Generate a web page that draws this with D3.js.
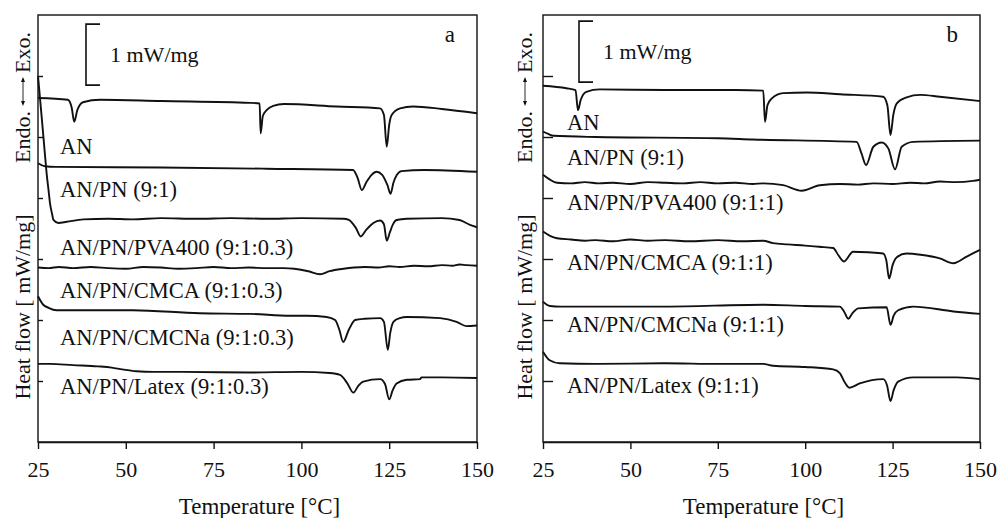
<!DOCTYPE html>
<html>
<head>
<meta charset="utf-8">
<script src="https://cdn.jsdelivr.net/npm/d3@7"></script>
<style>
  body { margin: 0; background: #fff; }
  svg { display: block; }
  text { font-family: "Liberation Serif", "Times New Roman", serif; fill: #111; }
</style>
</head>
<body>
<svg id="chart" width="998" height="518"></svg>
<script>
// ---- Data: DSC traces, [temperature °C, heat flow offset mW/mg] ----
const xTicks = [25, 50, 75, 100, 125, 150];
const yTicks = [1, 2, 3, 4, 5, 6];

// Panel a (additive 9:1:0.3)
const a_AN = [[25,5.64],[33.5,5.61],[34.6,5.48],[35.3,5.25],[36.2,5.44],[37.8,5.57],[42.7,5.61],[60,5.59],[85.4,5.56],[88.1,5.55],[88.4,5.06],[89.0,5.34],[90.1,5.44],[92,5.51],[95,5.54],[110,5.50],[122.4,5.47],[123.5,5.36],[124.3,4.84],[125.0,5.20],[125.7,5.36],[128.1,5.47],[131.8,5.50],[140,5.46],[150,5.39]];
const a_ANPN = [[25,4.57],[27,4.52],[30,4.51],[60,4.50],[90,4.48],[114.7,4.46],[116,4.33],[117.2,4.13],[118.5,4.26],[120,4.38],[121.4,4.43],[123,4.38],[124.5,4.21],[125.4,4.07],[126.2,4.25],[127.2,4.38],[128.5,4.44],[135,4.46],[150,4.43]];
const a_PVA = [[25,6.00],[26,5.36],[27,4.70],[27.5,4.38],[28,4.13],[28.4,3.92],[29,3.74],[29.4,3.64],[30.8,3.59],[33.2,3.61],[37.9,3.65],[45,3.66],[52,3.65],[60,3.67],[70,3.66],[80,3.67],[90,3.66],[100,3.67],[112,3.66],[113.5,3.64],[115.5,3.51],[116.9,3.37],[118.5,3.48],[120.5,3.59],[122.4,3.63],[123.5,3.57],[124.3,3.30],[125.2,3.44],[126,3.56],[127.1,3.64],[130,3.66],[140,3.67],[145,3.64],[148,3.56],[150,3.52]];
const a_CMCA = [[25,2.86],[28,2.85],[31,2.87],[35,2.85],[40,2.87],[45,2.85],[50,2.84],[55,2.87],[60,2.86],[65,2.84],[70,2.85],[75,2.87],[80,2.85],[85,2.86],[90,2.85],[95,2.85],[98,2.84],[102,2.80],[105.3,2.75],[108,2.80],[112,2.84],[115,2.86],[118,2.87],[122,2.86],[125,2.88],[128,2.87],[132,2.89],[136,2.88],[140,2.90],[143,2.89],[145,2.91],[147,2.90],[150,2.89]];
const a_CMCNa = [[25,2.39],[26.5,2.25],[28,2.20],[30.3,2.16],[37.8,2.16],[52,2.16],[71,2.11],[85.4,2.10],[96.8,2.07],[101.5,2.07],[107.2,2.05],[109.6,2.00],[110.8,1.84],[111.9,1.64],[113.5,1.84],[115.3,2.00],[118,2.02],[122.4,2.03],[123.5,1.97],[124.6,1.51],[125.3,1.79],[126.2,1.97],[128,2.03],[130,2.05],[139.5,2.03],[144.2,1.97],[147,1.90],[150,1.91]];
const a_Latex = [[25,1.28],[28.4,1.28],[35,1.26],[42,1.24],[46,1.22],[49,1.19],[53,1.16],[58,1.15],[66.3,1.15],[85.4,1.14],[100,1.15],[108,1.13],[111,1.10],[113,0.97],[114.8,0.81],[116.2,0.92],[117.6,0.99],[122.4,1.03],[123.8,0.95],[125,0.70],[126,0.85],[127.1,0.96],[130,1.02],[133.8,1.03],[134.2,1.06],[140,1.06],[150,1.05]];
const a_names = ["AN", "AN/PN (9:1)", "AN/PN/PVA400 (9:1:0.3)", "AN/PN/CMCA (9:1:0.3)", "AN/PN/CMCNa (9:1:0.3)", "AN/PN/Latex (9:1:0.3)"];

// Panel b (additive 9:1:1)
const b_AN = [[25,5.84],[31.7,5.80],[34.3,5.77],[35.0,5.44],[35.8,5.61],[37.4,5.74],[41.2,5.78],[60,5.77],[80,5.77],[88.0,5.76],[88.5,5.25],[89.2,5.52],[90.4,5.63],[93.7,5.72],[100.4,5.73],[110,5.70],[122.3,5.66],[123.5,5.52],[124.4,5.03],[125.2,5.36],[126.2,5.55],[129,5.65],[132.9,5.69],[138.5,5.66],[150,5.59]];
const b_ANPN = [[25,5.09],[26.5,5.05],[28,5.02],[40,5.00],[75,4.98],[85,4.96],[114.7,4.92],[116.1,4.73],[117.4,4.54],[119.5,4.84],[121.9,4.91],[123.8,4.81],[125.7,4.47],[127.6,4.84],[130.9,4.92],[150,4.94]];
const b_PVA = [[25,4.38],[27,4.30],[29,4.25],[33,4.24],[37,4.26],[41,4.24],[45,4.25],[50,4.23],[55,4.26],[60,4.25],[65,4.24],[70,4.26],[75,4.24],[80,4.25],[85,4.23],[88,4.24],[93.7,4.21],[99,4.12],[104.2,4.21],[110,4.23],[115,4.22],[119.5,4.24],[125,4.23],[130,4.25],[134,4.24],[138.5,4.27],[143,4.26],[148,4.28],[150,4.30]];
const b_CMCA = [[25,3.45],[27,3.38],[29,3.34],[33,3.32],[37,3.30],[40,3.31],[45,3.29],[50,3.32],[55,3.30],[60,3.31],[67,3.29],[75,3.31],[82,3.29],[88,3.30],[90.8,3.26],[95,3.24],[100,3.22],[104,3.20],[108,3.18],[109.4,3.07],[111.1,2.96],[113.7,3.12],[118,3.11],[122.3,3.09],[123.2,2.98],[124,2.68],[125,2.90],[126.2,3.03],[129,3.09],[133,3.07],[138.5,3.01],[142.4,2.93],[146.2,3.04],[150,3.15]];
const b_CMCNa = [[25,2.30],[27,2.23],[30,2.22],[60,2.22],[88,2.25],[100,2.23],[109.9,2.22],[111.1,2.14],[112.3,2.02],[113.5,2.11],[115.2,2.19],[123.3,2.21],[124.4,1.92],[125.3,2.07],[126.6,2.16],[130.9,2.22],[142.4,2.14],[150,2.10]];
const b_Latex = [[25,1.48],[26.9,1.34],[29.8,1.29],[40,1.28],[60,1.29],[75,1.28],[88,1.28],[90.8,1.25],[100,1.23],[108,1.19],[109.9,1.13],[111.3,0.98],[112.6,0.89],[115.6,0.96],[122.3,1.03],[123.4,0.93],[124.4,0.67],[125.3,0.85],[126.6,0.99],[130.9,1.06],[143.4,1.06],[150,1.03]];
const b_names = ["AN", "AN/PN (9:1)", "AN/PN/PVA400 (9:1:1)", "AN/PN/CMCA (9:1:1)", "AN/PN/CMCNa (9:1:1)", "AN/PN/Latex (9:1:1)"];

// ---- Drawing ----
const svg = d3.select("#chart");
const plotTop = 15, plotBottom = 442;
const FONT = 22.5;

function drawPanel(p) {
  const x = d3.scaleLinear().domain([25, 150]).range([p.left, p.right]);
  const y = d3.scaleLinear().domain([0, 7]).range([plotBottom, plotTop]);
  const g = svg.append("g");

  // frame
  g.append("rect")
    .attr("x", p.left).attr("y", plotTop)
    .attr("width", p.right - p.left).attr("height", plotBottom - plotTop)
    .attr("fill", "none").attr("stroke", "#111").attr("stroke-width", 1.4);

  // x axis
  const xa = g.append("g").attr("transform", `translate(0,${plotBottom})`)
    .call(d3.axisBottom(x).tickValues(xTicks).tickSize(7).tickSizeOuter(0));
  xa.select(".domain").attr("stroke", "#111").attr("stroke-width", 1.4);
  xa.selectAll(".tick line").attr("stroke", "#111").attr("stroke-width", 1.4);
  xa.selectAll(".tick text")
    .attr("y", 35).attr("dy", 0)
    .style("font-family", '"Liberation Serif", serif')
    .style("font-size", "22px").attr("fill", "#111");

  // y axis: inward ticks without labels
  const ya = g.append("g").attr("transform", `translate(${p.left},0)`)
    .call(d3.axisLeft(y).tickValues(yTicks).tickSize(-p.tick).tickSizeOuter(0).tickFormat(""));
  ya.select(".domain").remove();
  ya.selectAll(".tick line").attr("stroke", "#111").attr("stroke-width", 1.4);

  // traces
  const line = d3.line().x(d => x(d[0])).y(d => y(d[1])).curve(d3.curveMonotoneX);
  p.traces.forEach((tr, i) => {
    g.append("path").datum(tr)
      .attr("d", line)
      .attr("fill", "none").attr("stroke", "#111")
      .attr("stroke-width", 1.9).attr("stroke-linejoin", "round");
    g.append("text")
      .attr("x", p.labelX).attr("y", p.labelY[i])
      .style("font-size", FONT + "px")
      .text(p.names[i]);
  });

  // scale bar, 1 mW/mg tall
  const sb = p.scaleBar;
  const y0 = y(sb.v), y1 = y(sb.v - 1);
  g.append("path")
    .attr("d", `M${sb.x + 14},${y0}H${sb.x}V${y1}H${sb.x + 14}`)
    .attr("fill", "none").attr("stroke", "#111").attr("stroke-width", 1.6);
  g.append("text")
    .attr("x", sb.x + 24).attr("y", (y0 + y1) / 2 + 7)
    .style("font-size", "22px").text("1 mW/mg");

  // panel letter
  g.append("text")
    .attr("x", p.right - 22).attr("y", 42)
    .attr("text-anchor", "end")
    .style("font-size", "23px").text(p.letter);

  // y axis titles (rotated)
  g.append("text")
    .attr("transform", `translate(${p.titleX},307) rotate(-90)`)
    .attr("text-anchor", "middle")
    .style("font-size", "22px")
    .text("Heat flow [ mW/mg]");

  const ee = g.append("g").attr("transform", `translate(${p.titleX},0)`);
  ee.append("text")
    .attr("transform", "translate(0,163) rotate(-90)")
    .style("font-size", "22px").text("Endo.");
  ee.append("text")
    .attr("transform", "translate(0,73) rotate(-90)")
    .style("font-size", "22px").text("Exo.");
  // double-headed arrow between the two words
  const ax = -7;
  ee.append("line").attr("x1", ax).attr("x2", ax)
    .attr("y1", 79).attr("y2", 104)
    .attr("stroke", "#111").attr("stroke-width", 0.9);
  ee.append("path")
    .attr("d", `M${ax - 2},82L${ax},77L${ax + 2},82Z M${ax - 2},101L${ax},106L${ax + 2},101Z`)
    .attr("fill", "#111");

  // x axis title
  g.append("text")
    .attr("x", (p.left + p.right) / 2 + 2).attr("y", 514)
    .attr("text-anchor", "middle")
    .style("font-size", "23px")
    .text("Temperature [°C]");
}

drawPanel({
  left: 38, right: 477, tick: 5, letter: "a", titleX: 30,
  traces: [a_AN, a_ANPN, a_PVA, a_CMCA, a_CMCNa, a_Latex],
  names: a_names,
  labelX: 60, labelY: [154, 197, 255, 298, 345, 394],
  scaleBar: { x: 86, v: 6.85 }
});

drawPanel({
  left: 543, right: 980, tick: 10, letter: "b", titleX: 532,
  traces: [b_AN, b_ANPN, b_PVA, b_CMCA, b_CMCNa, b_Latex],
  names: b_names,
  labelX: 567, labelY: [130, 165, 210, 270, 332, 393],
  scaleBar: { x: 579, v: 6.9 }
});
</script>
</body>
</html>
